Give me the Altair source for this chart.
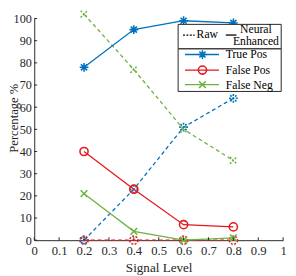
import altair as alt
import pandas as pd

levels = [0.2, 0.4, 0.6, 0.8]
tp_neural = [78, 95, 99, 98]
tp_raw = [0, 23, 51, 64]
fp_neural = [40, 23, 7, 6]
fp_raw = [0, 0, 0, 0]
fn_neural = [21, 4, 0, 1]
fn_raw = [102, 77, 50, 36]

x_ticks = [0, 0.1, 0.2, 0.3, 0.4, 0.5, 0.6, 0.7, 0.8, 0.9, 1]
y_ticks = [0, 10, 20, 30, 40, 50, 60, 70, 80, 90, 100]

legend_labels = ["True Pos", "False Pos", "False Neg"]

BLUE = "#0072BD"
RED = "#E3191C"
GREEN = "#6DB33F"
FONT = "Liberation Serif"
AX = "#262626"

ASTER = "M-1,0L1,0M0,-1L0,1M-0.7,-0.7L0.7,0.7M-0.7,0.7L0.7,-0.7"
XMARK = "M-1,-1L1,1M-1,1L1,-1"

W, H = 256, 228

xs = alt.Scale(domain=[0, 1], nice=False)
ys = alt.Scale(domain=[0, 100], nice=False)

xaxis = alt.Axis(values=x_ticks, format="~g", title="Signal Level", grid=False,
                 tickSize=0, labelPadding=5, titlePadding=3, labelOverlap=False,
                 labelFlush=False)
yaxis = alt.Axis(values=y_ticks, title="Percentage %", grid=False, tickSize=0,
                 labelPadding=3, labelOverlap=False, labelFlush=False,
                 labelFontSize=12.5,
                 titleX=-17, titleY=102, titleAngle=270, titleAlign="center",
                 titleBaseline="alphabetic", titleFontSize=13)

series = [
    (tp_raw, BLUE, ASTER, 81, True),
    (fp_raw, RED, "circle", 70, True),
    (fn_raw, GREEN, XMARK, 49, True),
    (tp_neural, BLUE, ASTER, 81, False),
    (fp_neural, RED, "circle", 70, False),
    (fn_neural, GREEN, XMARK, 49, False),
]

layers = []
for vals, col, shp, sz, dashed in series:
    df = pd.DataFrame({"level": levels, "value": vals})
    xenc = alt.X("level:Q", scale=xs, axis=xaxis)
    yenc = alt.Y("value:Q", scale=ys, axis=yaxis)
    line_kw = dict(color=col, strokeWidth=1.3)
    pt_kw = dict(color=col, shape=shp, size=sz, filled=False, strokeWidth=1.6, opacity=1)
    if dashed:
        line_kw["strokeDash"] = [4, 3]
        pt_kw["strokeDash"] = [2, 1.5]
    base = alt.Chart(df).encode(x=xenc, y=yenc)
    layers.append(base.mark_line(**line_kw))
    layers.append(base.mark_point(**pt_kw))

# inward ticks
xt = alt.Chart(pd.DataFrame({"t": x_ticks})).mark_rule(color=AX, strokeWidth=1).encode(
    x=alt.X("t:Q", scale=xs, axis=xaxis), y=alt.value(H), y2=alt.value(H - 3))
yt = alt.Chart(pd.DataFrame({"t": y_ticks})).mark_rule(color=AX, strokeWidth=1).encode(
    y=alt.Y("t:Q", scale=ys, axis=yaxis), x=alt.value(0), x2=alt.value(3))

# custom legend (pixel positions relative to plot area)
def rule(x1, x2, y, color, width=1.3, dash=None):
    kw = dict(color=color, strokeWidth=width)
    if dash:
        kw["strokeDash"] = dash
    return alt.Chart().mark_rule(**kw).encode(
        x=alt.value(x1), x2=alt.value(x2), y=alt.value(y))

def txt(x, y, s, align="left"):
    return alt.Chart().mark_text(text=s, font=FONT, fontSize=12, color="black",
                                 align=align, baseline="middle").encode(
        x=alt.value(x), y=alt.value(y))

def pt(x, y, col, shp, sz):
    return alt.Chart().mark_point(color=col, shape=shp, size=sz, filled=False,
                                  strokeWidth=1.6, opacity=1).encode(
        x=alt.value(x), y=alt.value(y))

box = alt.Chart().mark_rect(fill="white", stroke="#222", strokeWidth=1).encode(
    x=alt.value(148), x2=alt.value(254), y=alt.value(6), y2=alt.value(75))

leg = [box,
       rule(153, 165, 17, "black", 1.2, [2, 1.5]),
       txt(167, 16, "Raw"),
       rule(197, 208, 17, "black", 1.3),
       txt(228, 11, "Neural", "center"),
       txt(228, 23, "Enhanced", "center"),
       rule(148, 254, 31, "#444", 1.6)]
ents = [(37, BLUE, ASTER, 81), (53, RED, "circle", 70), (68, GREEN, XMARK, 49)]
for (yy, col, shp, sz), lab in zip(ents, legend_labels):
    leg.append(rule(155, 190, yy, col, 1.3))
    leg.append(pt(173, yy, col, shp, sz))
    leg.append(txt(197, yy, lab))

chart = alt.layer(*layers, xt, yt, *leg).properties(
    width=W, height=H,
    autosize=alt.AutoSizeParams(type="none"),
    padding={"left": 27, "top": 7, "right": 5, "bottom": 33},
).configure_view(stroke=None).configure_axis(
    labelFont=FONT, titleFont=FONT, labelFontSize=13, titleFontSize=13.5,
    titleFontWeight="normal", labelColor=AX, titleColor=AX,
    domainColor=AX, domainWidth=1,
)

chart.save("out.html", embed_options={"renderer": "svg", "actions": False})
